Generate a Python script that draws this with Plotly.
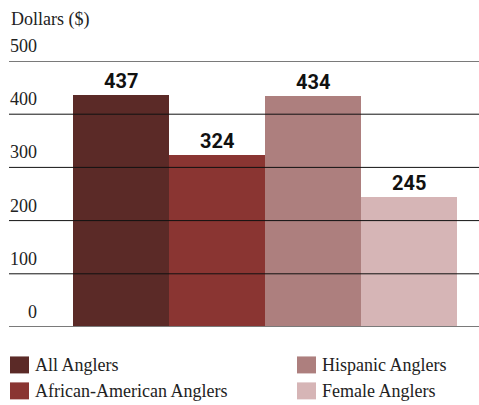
import plotly.graph_objects as go

# Average spending per angler
groups = ["All Anglers", "African-American Anglers", "Hispanic Anglers", "Female Anglers"]
dollars = [437, 324, 434, 245]
colors = ["#5b2a27", "#8a3532", "#ad7f7e", "#d6b5b6"]
y_ticks = [0, 100, 200, 300, 400, 500]

W, H = 479, 405
L, R, T, B = 9, 0, 61, 77.5
plot_w = W - L - R
plot_h = H - T - B

SERIF = "Liberation Serif"
LABEL = "Roboto"


def px_x(p):
    return (p - L) / plot_w


def px_y(p):
    return (H - B - p) / plot_h


fig = go.Figure()
positions = list(range(len(groups)))
fig.add_trace(go.Bar(
    x=positions, y=dollars, width=1.0,
    marker=dict(color=colors, line=dict(width=0)),
    showlegend=False, hoverinfo="skip",
))

shapes = []
annotations = []

# value labels above each bar
for xpos, v in zip(positions, dollars):
    annotations.append(dict(
        xref="x", yref="y", x=xpos, y=v, text=str(v),
        showarrow=False, xanchor="center", yanchor="bottom", yshift=0,
        font=dict(family=LABEL, size=20, color="#111111", weight="bold"),
    ))

for t in y_ticks:
    edge = t in (0, 500)
    shapes.append(dict(
        type="line", xref="paper", yref="y", x0=0, x1=1, y0=t, y1=t,
        line=dict(color="#7a7a7a" if edge else "#111111", width=2 if edge else 1),
        layer="above",
    ))
    annotations.append(dict(
        xref="paper", yref="y", x=px_x(39), y=t, text=str(t),
        showarrow=False, xanchor="right", yanchor="bottom", yshift=3,
        font=dict(family=SERIF, size=18, color="#222222"),
    ))

annotations.append(dict(
    xref="paper", yref="paper", x=px_x(9), y=px_y(7), text="Dollars ($)",
    showarrow=False, xanchor="left", yanchor="top",
    font=dict(family=SERIF, size=18, color="#222222"),
))

# legend in two columns
legend_slots = [(10, 357), (10, 383), (297, 357), (297, 383)]
for name, col, (lx, ly) in zip(groups, colors, legend_slots):
    shapes.append(dict(
        type="rect", xref="paper", yref="paper",
        x0=px_x(lx), x1=px_x(lx + 19), y0=px_y(ly), y1=px_y(ly + 17),
        fillcolor=col, line=dict(width=0),
    ))
    annotations.append(dict(
        xref="paper", yref="paper", x=px_x(lx + 23), y=px_y(ly + 8.5),
        text=name, showarrow=False, xanchor="left", yanchor="middle",
        font=dict(family=SERIF, size=18, color="#222222"),
    ))

x_lo = -0.5 - (73 - L) / 96
x_hi = x_lo + plot_w / 96

fig.update_layout(
    width=W, height=H,
    margin=dict(l=L, r=R, t=T, b=B),
    paper_bgcolor="white", plot_bgcolor="white",
    font=dict(family=SERIF),
    xaxis=dict(range=[x_lo, x_hi], visible=False, fixedrange=True),
    yaxis=dict(range=[0, 500], visible=False, fixedrange=True),
    shapes=shapes, annotations=annotations,
    bargap=0, showlegend=False,
)

fig.write_html("out.html")
